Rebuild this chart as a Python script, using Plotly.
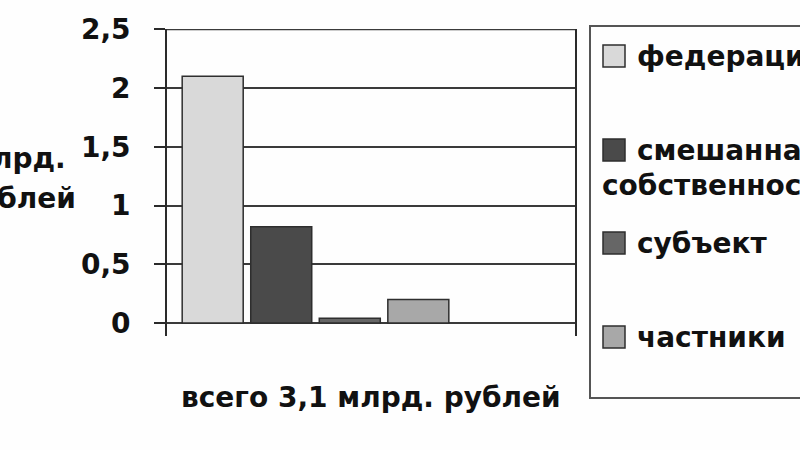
import plotly.graph_objects as go

categories = ["всего 3,1 млрд. рублей"]
series_names = ["федерации", "смешанная собственность", "субъект", "частники"]
series_values = [2.1, 0.82, 0.04, 0.2]
series_colors = ["#d9d9d9", "#4a4a4a", "#666666", "#a8a8a8"]
tick_vals = [0, 0.5, 1, 1.5, 2, 2.5]
y_title_lines = ["млрд.", "рублей"]

FONT = "DejaVu Sans"
FS = 28
TXT = dict(family=FONT, size=FS, color="#111111", weight="bold")

fig = go.Figure()
for name, val, col in zip(series_names, series_values, series_colors):
    fig.add_trace(go.Bar(
        x=categories, y=[val], name=name,
        marker=dict(color=col, line=dict(color="#2e2e2e", width=1.5)),
        showlegend=False,
    ))

W, H = 800, 450
L, R, T, B = 167, 575, 29, 336


def px(x):
    return (x - L) / (R - L)


def py(y):
    return (B - y) / (B - T)


shapes = []
annotations = []
# top gridline (plotly drops gridlines lying on the plot edge)
shapes.append(dict(type="line", xref="paper", yref="y", x0=0, x1=1,
                   y0=max(tick_vals), y1=max(tick_vals),
                   line=dict(color="#3a3a3a", width=1.6), layer="below"))
# legend box
shapes.append(dict(type="rect", xref="paper", yref="paper",
                   x0=px(590), x1=px(830), y0=py(398), y1=py(26),
                   line=dict(color="#555555", width=2), fillcolor="rgba(0,0,0,0)"))
legend_centers = [56, 150, 243, 337]
for name, col, cy in zip(series_names, series_colors, legend_centers):
    shapes.append(dict(type="rect", xref="paper", yref="paper",
                       x0=px(603), x1=px(625), y0=py(cy + 11), y1=py(cy - 11),
                       line=dict(color="#2e2e2e", width=1.5), fillcolor=col))
    parts = name.split(" ", 1)
    annotations.append(dict(text=parts[0], xref="paper", yref="paper",
                            x=px(635), y=py(cy), xanchor="left", yanchor="middle",
                            showarrow=False, font=TXT))
    if len(parts) > 1:
        annotations.append(dict(text=parts[1], xref="paper", yref="paper",
                                x=px(600), y=py(cy + 35), xanchor="left", yanchor="middle",
                                showarrow=False, font=TXT))

# category label
annotations.append(dict(text=categories[0], xref="paper", yref="paper",
                        x=0.5, y=py(397), xanchor="center", yanchor="middle",
                        showarrow=False, font=TXT))
# y title (two lines)
for line, cy in zip(y_title_lines, [158, 198]):
    annotations.append(dict(text=line, xref="paper", yref="paper",
                            x=px(17), y=py(cy), xanchor="center", yanchor="middle",
                            showarrow=False, font=TXT))

fig.update_layout(
    width=W, height=H,
    margin=dict(l=L, r=W - R, t=T, b=H - B, autoexpand=False),
    paper_bgcolor="#fefefe", plot_bgcolor="#fefefe",
    barmode="group", bargap=0.328, bargroupgap=0.11,
    separators=", ",
    shapes=shapes, annotations=annotations,
    font=dict(family=FONT, size=FS, color="#111111"),
)
fig.update_xaxes(type="category", range=[-0.364, 0.636], showticklabels=False,
                 showgrid=False, zeroline=False, showline=False, ticks="")
fig.update_yaxes(range=[-0.1105, 2.503], tickvals=tick_vals,
                 showgrid=True, gridcolor="#3a3a3a", gridwidth=1.6,
                 zeroline=True, zerolinecolor="#3a3a3a", zerolinewidth=1.6,
                 showline=True, mirror=True, linecolor="#2a2a2a", linewidth=1.6,
                 ticks="outside", ticklen=11, tickwidth=1.6, tickcolor="#2a2a2a",
                 ticklabelstandoff=18,
                 tickfont=TXT)

fig.write_html("out.html", config={"displayModeBar": False},
               post_script="document.body.style.margin='0';")
